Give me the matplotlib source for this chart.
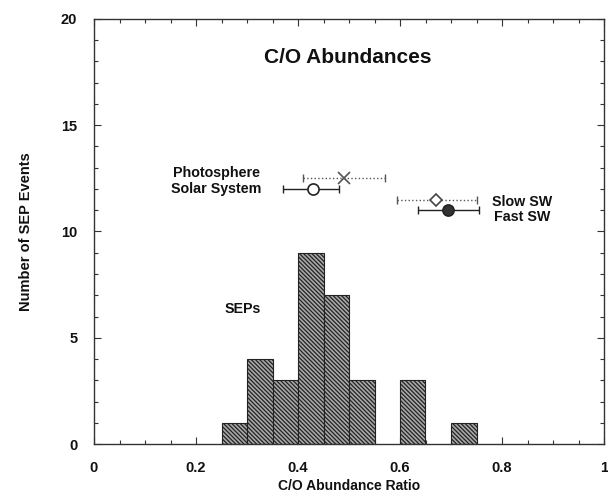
import matplotlib
matplotlib.use("Agg")
import matplotlib.pyplot as plt
import numpy as np
from matplotlib.ticker import MultipleLocator

plt.rcParams['font.family'] = ['Liberation Sans', 'DejaVu Sans']
plt.rcParams['hatch.linewidth'] = 0.9
plt.rcParams['hatch.color'] = '#3a3a3a'

# Histogram data (bin left edges, width 0.05)
bin_left = [0.25, 0.30, 0.35, 0.40, 0.45, 0.50, 0.60, 0.70]
counts = [1, 4, 3, 9, 7, 3, 3, 1]
bin_width = 0.05

# Reference abundances
ref_names = ["Photosphere", "Solar System", "Slow SW", "Fast SW"]
ref_x = [0.49, 0.43, 0.67, 0.695]
ref_y = [12.5, 12.0, 11.5, 11.0]
ref_lo = [0.41, 0.37, 0.595, 0.635]
ref_hi = [0.57, 0.48, 0.75, 0.755]

xticks = [0, 0.2, 0.4, 0.6, 0.8, 1]
xticklabels = ["0", "0.2", "0.4", "0.6", "0.8", "1"]
yticks = [0, 5, 10, 15, 20]

fig = plt.figure(figsize=(6.08, 4.98), dpi=100)
ax = fig.add_axes([94/608, 1-444/498, 510/608, 425/498])

ax.bar(bin_left, counts, width=bin_width, align='edge', facecolor='#a8a8a8',
       edgecolor='#222222', linewidth=0.8, hatch='\\\\\\\\\\\\\\\\', zorder=2)

styles = [
    dict(marker='x', ms=8, mfc='none', mec='#555555', ls=':', color='#555555'),
    dict(marker='o', ms=8, mfc='white', mec='#222222', ls='-', color='#222222'),
    dict(marker='D', ms=6, mfc='white', mec='#444444', ls=':', color='#555555'),
    dict(marker='o', ms=8, mfc='#333333', mec='#222222', ls='-', color='#222222'),
]
for i in range(4):
    st = styles[i]
    xl = ref_x[i] - ref_lo[i]
    xh = ref_hi[i] - ref_x[i]
    eb = ax.errorbar([ref_x[i]], [ref_y[i]], xerr=[[xl], [xh]], fmt='none',
                     ecolor=st['color'], elinewidth=1, capsize=3, capthick=1, zorder=3)
    for ln in eb[2]:
        ln.set_linestyle(st['ls'])
    ax.plot([ref_x[i]], [ref_y[i]], marker=st['marker'], ms=st['ms'],
            mfc=st['mfc'], mec=st['mec'], mew=1.2, ls='none', zorder=4)

ax.text(0.498, 18.2, "C/O Abundances", fontsize=15, fontweight='bold',
        ha='center', va='center', color='#111111')
ax.text(0.325, 12.75, "Photosphere", fontsize=10.3, fontweight='bold',
        ha='right', va='center', color='#111111')
ax.text(0.329, 12.0, "Solar System", fontsize=10.3, fontweight='bold',
        ha='right', va='center', color='#111111')
ax.text(0.78, 11.4, "Slow SW", fontsize=10.3, fontweight='bold',
        ha='left', va='center', color='#111111')
ax.text(0.785, 10.7, "Fast SW", fontsize=10.3, fontweight='bold',
        ha='left', va='center', color='#111111')
ax.text(0.292, 6.35, "SEPs", fontsize=10.3, fontweight='bold',
        ha='center', va='center', color='#111111')

ax.set_xlim(0, 1)
ax.set_ylim(0, 20)
ax.set_xticks(xticks)
ax.set_xticklabels(xticklabels)
ax.set_yticks(yticks)
ax.xaxis.set_minor_locator(MultipleLocator(0.05))
ax.yaxis.set_minor_locator(MultipleLocator(1))
ax.tick_params(which='both', direction='in', top=True, right=True, color='#333333')
ax.tick_params(which='major', length=5, width=0.8, labelsize=10.5, pad=12)
ax.tick_params(which='minor', length=3, width=0.8)
for lab in ax.get_xticklabels() + ax.get_yticklabels():
    lab.set_fontweight('bold')
    lab.set_color('#111111')
for sp in ax.spines.values():
    sp.set_color('#333333')
    sp.set_linewidth(1)

ax.set_xlabel("C/O Abundance Ratio", fontsize=10, fontweight='bold', labelpad=3, color='#111111')
ax.set_ylabel("Number of SEP Events", fontsize=10.5, fontweight='bold', labelpad=20, color='#111111')

fig.savefig("out.png", dpi=100)
